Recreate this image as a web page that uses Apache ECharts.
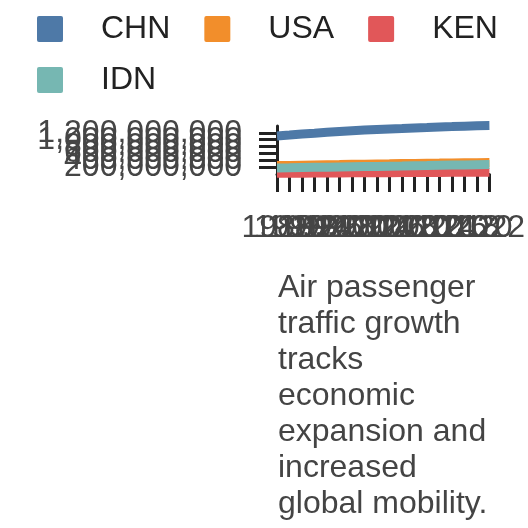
<!DOCTYPE html>
<html>
<head>
<meta charset="utf-8">
<script src="https://cdn.jsdelivr.net/npm/echarts@6/dist/echarts.min.js"></script>
<style>
  html, body { margin: 0; padding: 0; background: #fff; }
  #chart { width: 528px; height: 528px; }
</style>
</head>
<body>
<div id="chart"></div>
<script>
// population-like series, values in millions
const years = ['1988', '1990', '1992', '1994', '1996', '1998', '2000', '2002', '2004',
               '2006', '2008', '2010', '2012', '2014', '2016', '2018', '2020', '2022'];
const chn = [1110, 1135, 1165, 1190, 1218, 1242, 1262, 1280, 1296, 1311, 1325, 1340, 1354, 1369, 1382, 1396, 1408, 1412];
const usa = [245, 250, 257, 263, 269, 275, 282, 288, 293, 298, 304, 309, 314, 318, 323, 327, 331, 333];
const ken = [22, 24, 25, 27, 29, 31, 33, 35, 37, 39, 41, 43, 45, 47, 49, 51, 53, 54];
const idn = [177, 182, 188, 194, 199, 205, 211, 217, 222, 229, 235, 242, 248, 255, 261, 266, 271, 275];
const seriesNames  = ['CHN', 'USA', 'KEN', 'IDN'];
const seriesColors = ['#4e79a7', '#f28e2b', '#e15759', '#76b7b2'];
const noteLines = ['Air passenger', 'traffic growth', 'tracks', 'economic',
                   'expansion and', 'increased', 'global mobility.'];

const FONT = "'Liberation Sans', Arial, sans-serif";
// square with slightly rounded corners for the legend swatches
const SWATCH = 'path://M2,0H24A2,2,0,0,1,26,2V24A2,2,0,0,1,24,26H2A2,2,0,0,1,0,24V2A2,2,0,0,1,2,0Z';
const chart = echarts.init(document.getElementById('chart'));

const seriesData = [chn, usa, ken, idn];
const series = seriesNames.map((name, i) => ({
  name,
  type: 'line',
  data: seriesData[i].map(v => v * 1e6),
  symbol: 'none',
  clip: false,
  lineStyle: { width: 9, color: seriesColors[i] },
  itemStyle: { color: seriesColors[i] }
}));

chart.setOption({
  animation: false,
  color: seriesColors,
  legend: {
    left: 37,
    top: 13,
    padding: 0,
    icon: SWATCH,
    itemWidth: 26,
    itemHeight: 26,
    itemGap: 19,
    data: seriesNames,
    textStyle: {
      fontFamily: FONT,
      fontSize: 32,
      color: '#222',
      lineHeight: 26,
      height: 26,
      padding: [0, 15, 0, 33]
    }
  },
  grid: { left: 277, right: 30, top: 126, bottom: 354, containLabel: false },
  xAxis: {
    type: 'category',
    boundaryGap: false,
    data: years,
    axisLine: { lineStyle: { color: '#222', width: 3 } },
    axisTick: { show: true, interval: 0, length: 18, lineStyle: { color: '#222', width: 3 } },
    axisLabel: {
      interval: 0,
      margin: 38,
      fontFamily: FONT,
      fontSize: 32,
      color: '#454545'
    },
    splitLine: { show: false }
  },
  yAxis: {
    type: 'value',
    min: 0,
    max: 1400000000,
    interval: 200000000,
    axisLine: { show: true, lineStyle: { color: '#222', width: 3 } },
    axisTick: { show: true, length: 18, lineStyle: { color: '#222', width: 3 } },
    axisLabel: {
      margin: 35,
      fontFamily: FONT,
      fontSize: 32,
      color: '#454545',
      formatter: v => v.toLocaleString('en-US')
    },
    splitLine: { show: false }
  },
  graphic: [{
    type: 'text',
    left: 278,
    top: 270,
    style: {
      text: noteLines.join('\n'),
      font: '32px ' + FONT,
      lineHeight: 36,
      fill: '#444'
    }
  }],
  series
});
</script>
</body>
</html>
